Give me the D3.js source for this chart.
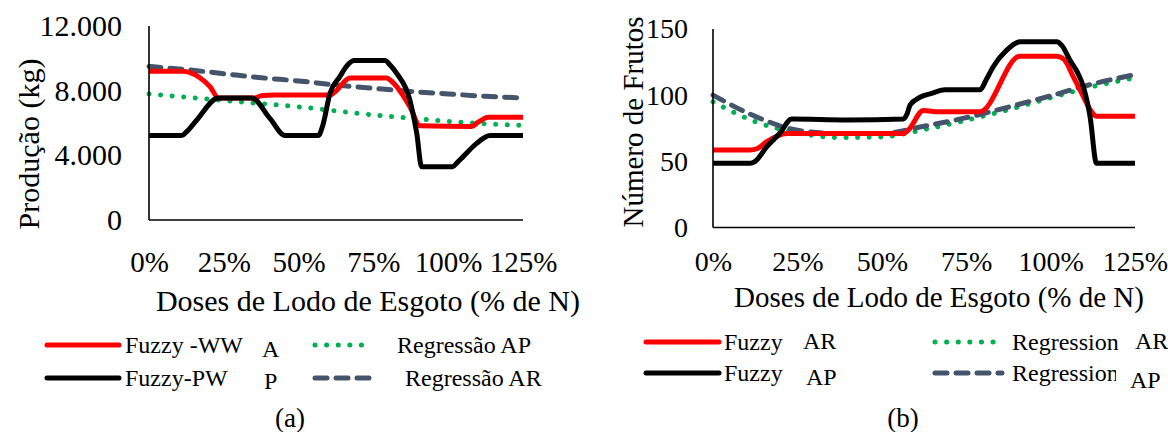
<!DOCTYPE html>
<html>
<head>
<meta charset="utf-8">
<script src="https://cdn.jsdelivr.net/npm/d3@7"></script>
<style>
  body { margin: 0; background: #fff; }
  svg { display: block; }
  svg text { font-family: "Liberation Serif", "Times New Roman", serif; fill: #000; }
  .domain { stroke: #000; stroke-width: 1.6; }
</style>
</head>
<body>
<svg id="chart" width="1168" height="432"></svg>
<script>
// ---- data (a) Produção (kg) ----
const dosesTicks = [0, 25, 50, 75, 100, 125];
const regDoses = [0, 12.5, 25, 37.5, 50, 62.5, 75, 87.5, 100, 112.5, 125];

const prodTicks = [0, 4000, 8000, 12000];
const prodFuzzyWW = [[0, 9200], [11, 9200], [14, 9100], [17, 8800], [20.4, 8250], [23.2, 7550], [34.9, 7550],
  [38, 7700], [42, 7730], [60.5, 7730], [62, 7900], [67.2, 8780], [79.4, 8780], [81, 8600], [82.8, 8250],
  [87.2, 7000], [90.6, 5830], [107.8, 5780], [110, 6050], [113.4, 6350], [125, 6350]];
const prodFuzzyPW = [[0, 5220], [10.9, 5220], [12.5, 5450], [15.9, 6170], [23.2, 7550], [34.3, 7550], [40.4, 6290],
  [45.5, 5220], [56.6, 5220], [58, 5800], [60.5, 7840], [63.8, 8870], [66, 9500], [68.5, 9860], [78.9, 9860],
  [80.5, 9600], [82.8, 9070], [87.2, 7420], [89.5, 5360], [91.1, 3300], [101.5, 3300], [103, 3550], [105, 3920],
  [109.5, 4740], [114, 5220], [125, 5220]];
const prodRegAP = [7800, 7600, 7400, 7200, 7000, 6750, 6500, 6300, 6100, 5950, 5850];
const prodRegAR = [9500, 9300, 9050, 8800, 8600, 8350, 8150, 7950, 7800, 7650, 7550];

// ---- data (b) Número de Frutos ----
const frutTicks = [0, 50, 100, 150];
const frutFuzzyAR = [[0, 58.5], [11, 58.5], [13, 59.5], [15.9, 64.8], [21.8, 71], [56.4, 71], [58, 74], [62.3, 88.5],
  [66, 87.5], [79.1, 87.5], [90.9, 129.5], [101.8, 129.5], [104, 127], [106.7, 114], [109.7, 99], [112, 88],
  [113.6, 84], [125, 84]];
const frutFuzzyAP = [[0, 48.5], [11, 48.5], [12.5, 50], [15.9, 61], [19.8, 71.2], [23.3, 82], [40, 81.3], [56.4, 82],
  [57.5, 86], [58.4, 92.6], [61.3, 98.4], [65, 101.5], [68.7, 104], [79.1, 104], [81, 112], [83, 121.5], [87, 134],
  [90.9, 140.4], [101.8, 140.4], [103.5, 137], [105.7, 126.6], [108, 117], [109.7, 106.4], [111.7, 83.7],
  [113.6, 48.5], [125, 48.5]];
const frutRegAR = [95, 80, 71.5, 68, 68.5, 74, 81, 89, 98, 106.5, 113];
const frutRegAP = [100, 84, 73.5, 71, 71, 76.5, 83, 91, 99.5, 108.5, 115.5];

// ---- styles ----
const styles = {
  red: { stroke: '#ff0000', width: 5, dash: null },
  black: { stroke: '#000000', width: 5, dash: null },
  dots: { stroke: '#00b050', width: 5, dash: '0.1 11.5' },
  dashes: { stroke: '#44546a', width: 5, dash: '12 9' }
};

const svg = d3.select('#chart');
const locale = d3.formatLocale({ decimal: ',', thousands: '.', grouping: [3], currency: ['', ''] });
const fmtThousands = locale.format(',');

function drawLine(g, pts, x, y, st) {
  g.append('path')
    .datum(pts)
    .attr('fill', 'none')
    .attr('stroke', st.stroke)
    .attr('stroke-width', st.width)
    .attr('stroke-linecap', st.dash ? 'round' : 'butt')
    .attr('stroke-linejoin', 'round')
    .attr('stroke-dasharray', st.dash)
    .attr('d', d3.line().x(d => x(d[0])).y(d => y(d[1])).curve(d3.curveMonotoneX));
}

function panel(cfg) {
  const g = svg.append('g');
  const x = d3.scaleLinear().domain([0, 125]).range(cfg.xRange);
  const y = d3.scaleLinear().domain(cfg.yDomain).range(cfg.yRange);

  // series: regressions first, fuzzy on top
  cfg.series.forEach(s => drawLine(g, s.pts, x, y, styles[s.style]));

  const yAxis = g.append('g')
    .attr('transform', `translate(${cfg.xRange[0]},0)`)
    .call(d3.axisLeft(y).tickValues(cfg.yTicks).tickSize(0).tickPadding(cfg.yPad).tickFormat(cfg.yFormat));
  yAxis.attr('font-family', null).attr('font-size', null);
  yAxis.selectAll('text').style('font-size', cfg.yFont + 'px');

  const xAxis = g.append('g')
    .attr('transform', `translate(0,${cfg.yRange[0]})`)
    .call(d3.axisBottom(x).tickValues(dosesTicks).tickSize(0).tickPadding(cfg.xPad).tickFormat(d => d + '%'));
  xAxis.attr('font-family', null).attr('font-size', null);
  xAxis.selectAll('text').style('font-size', cfg.xFont + 'px');
  xAxis.select('.domain').attr('d', `M${cfg.xRange[0]},0H${cfg.xRange[1]}`);
  yAxis.select('.domain').attr('d', `M0,${cfg.yRange[0]}V${cfg.yRange[1]}`);

  g.append('text')
    .attr('transform', `translate(${cfg.yTitlePos[0]},${cfg.yTitlePos[1]}) rotate(-90)`)
    .attr('text-anchor', 'middle')
    .attr('dominant-baseline', 'central')
    .style('font-size', cfg.yTitleFont + 'px')
    .text(cfg.yTitle);

  g.append('text')
    .attr('x', cfg.xTitlePos[0])
    .attr('y', cfg.xTitlePos[1])
    .attr('text-anchor', 'middle')
    .attr('dominant-baseline', 'central')
    .style('font-size', cfg.xTitleFont + 'px')
    .text('Doses de Lodo de Esgoto (% de N)');

  // legend
  const lg = g.append('g').style('font-size', cfg.legendFont + 'px');
  cfg.legend.forEach(it => {
    const st = styles[it.style];
    lg.append('line')
      .attr('x1', it.line[0]).attr('x2', it.line[1])
      .attr('y1', it.y).attr('y2', it.y)
      .attr('stroke', st.stroke)
      .attr('stroke-width', st.width)
      .attr('stroke-linecap', 'round')
      .attr('stroke-dasharray', st.dash);
    const t = lg.append('text')
      .attr('x', it.labelX).attr('y', it.y)
      .attr('dominant-baseline', 'central')
      .text(it.label);
    if (it.clip) t.attr('clip-path', `url(#${it.clip})`);
    if (it.tag) {
      lg.append('text')
        .attr('x', it.tagX).attr('y', it.tagY)
        .attr('dominant-baseline', 'central')
        .text(it.tag);
    }
  });

  g.append('text')
    .attr('x', cfg.captionPos[0]).attr('y', cfg.captionPos[1])
    .attr('text-anchor', 'middle')
    .attr('dominant-baseline', 'central')
    .style('font-size', '27px')
    .text(cfg.caption);
}

svg.append('defs').append('clipPath').attr('id', 'clipReg')
  .append('rect').attr('x', 1000).attr('y', 355).attr('width', 116).attr('height', 40);

panel({
  xRange: [149, 523], yDomain: [0, 12000], yRange: [220, 26],
  yTicks: prodTicks, yFormat: d => fmtThousands(d), yPad: 27, yFont: 30, xPad: 31, xFont: 29,
  yTitle: 'Produção (kg)', yTitlePos: [28, 144], yTitleFont: 30,
  xTitlePos: [368, 300], xTitleFont: 30,
  series: [
    { pts: regDoses.map((d, i) => [d, prodRegAP[i]]), style: 'dots' },
    { pts: regDoses.map((d, i) => [d, prodRegAR[i]]), style: 'dashes' },
    { pts: prodFuzzyWW, style: 'red' },
    { pts: prodFuzzyPW, style: 'black' }
  ],
  legendFont: 24,
  legend: [
    { style: 'red', line: [47, 119], y: 345, labelX: 125, label: 'Fuzzy -WW', tagX: 262, tagY: 349, tag: 'A' },
    { style: 'black', line: [47, 119], y: 378, labelX: 125, label: 'Fuzzy-PW', tagX: 264, tagY: 381, tag: 'P' },
    { style: 'dots', line: [315, 371], y: 345, labelX: 397, label: 'Regressão AP' },
    { style: 'dashes', line: [315, 377], y: 378, labelX: 405, label: 'Regressão AR' }
  ],
  caption: '(a)', captionPos: [290, 418]
});

panel({
  xRange: [713, 1135], yDomain: [0, 150], yRange: [227.5, 29],
  yTicks: frutTicks, yFormat: d => d, yPad: 25, yFont: 28, xPad: 24, xFont: 28,
  yTitle: 'Número de Frutos', yTitlePos: [633, 122], yTitleFont: 29,
  xTitlePos: [939, 297], xTitleFont: 29,
  series: [
    { pts: regDoses.map((d, i) => [d, frutRegAR[i]]), style: 'dots' },
    { pts: regDoses.map((d, i) => [d, frutRegAP[i]]), style: 'dashes' },
    { pts: frutFuzzyAR, style: 'red' },
    { pts: frutFuzzyAP, style: 'black' }
  ],
  legendFont: 24,
  legend: [
    { style: 'red', line: [646, 719], y: 342, labelX: 724, label: 'Fuzzy', tagX: 803, tagY: 341, tag: 'AR' },
    { style: 'black', line: [646, 719], y: 373, labelX: 724, label: 'Fuzzy', tagX: 806, tagY: 377, tag: 'AP' },
    { style: 'dots', line: [935, 1002], y: 342, labelX: 1012, label: 'Regression', tagX: 1135, tagY: 341, tag: 'AR' },
    { style: 'dashes', line: [935, 1002], y: 373, labelX: 1012, label: 'Regression', clip: 'clipReg', tagX: 1130, tagY: 380, tag: 'AP' }
  ],
  caption: '(b)', captionPos: [903, 418]
});
</script>
</body>
</html>
